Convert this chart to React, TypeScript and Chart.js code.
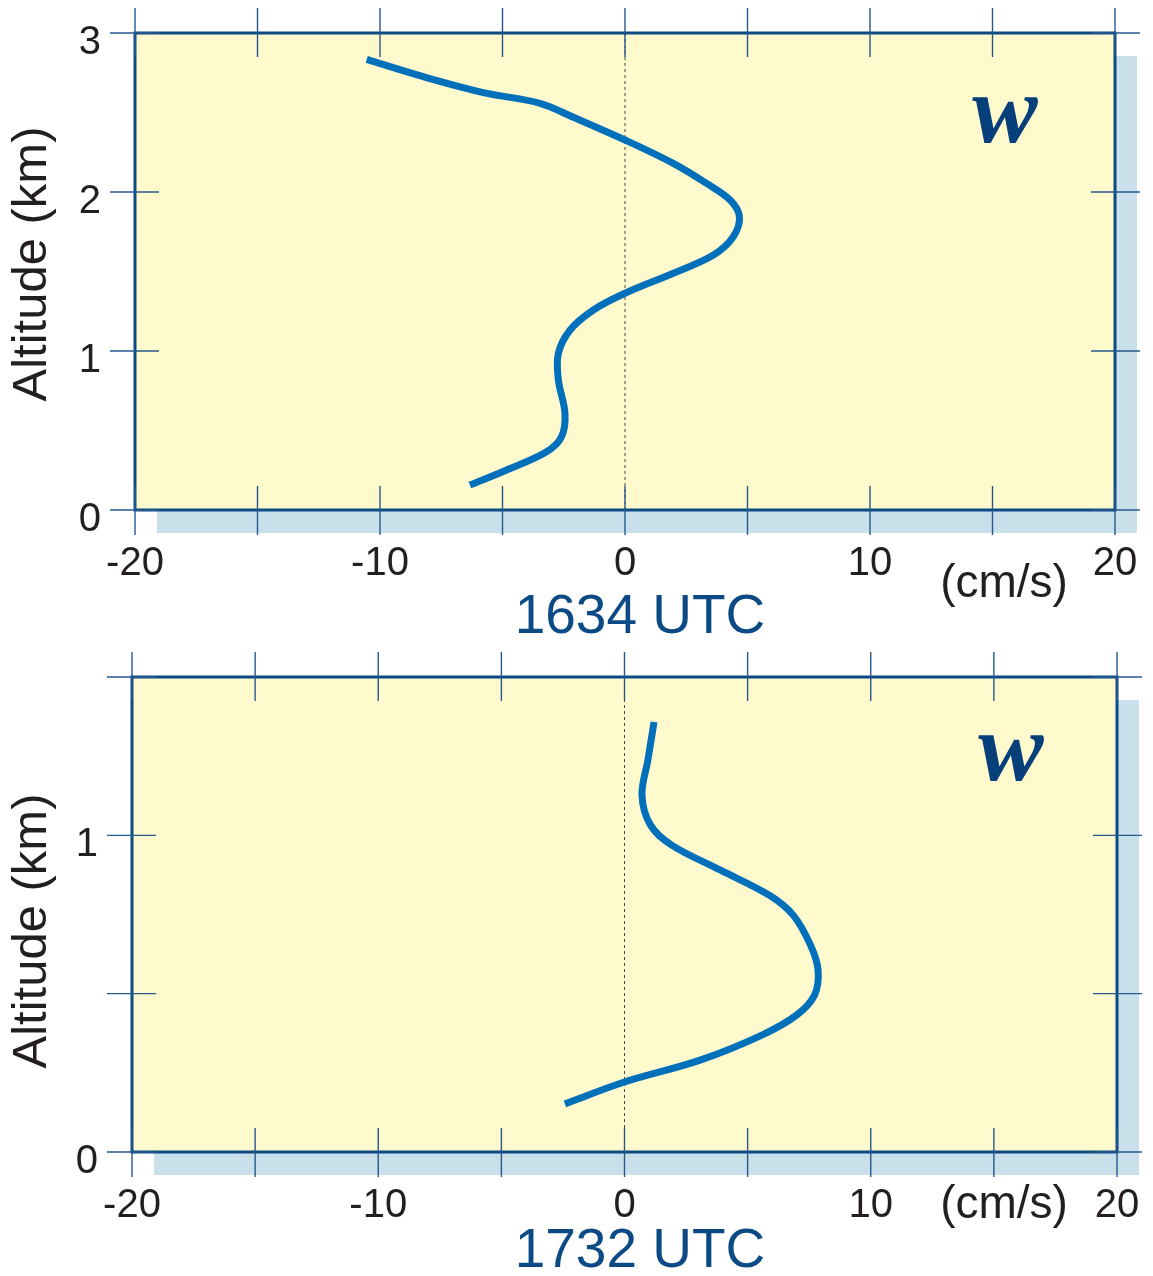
import { useEffect, useRef } from 'react';
import { Chart, registerables } from 'chart.js';

Chart.register(...registerables);

// Vertical velocity profiles (cm/s) against altitude (km)
const xTickMarks = [-20, -15, -10, -5, 0, 5, 10, 15, 20];
const xTickLabels = [-20, -10, 0, 10, 20];

const topW = [-10.54, -8.23, -5.78, -3.47, -2.11, 0, 1.97, 3.33, 4.29, 4.67, 4.42, 3.61, 1.97, 0, -1.29, -2.24, -2.72, -2.72, -2.45, -2.59, -3.2, -4.83, -6.33];
const topAlt = [2.834, 2.725, 2.625, 2.558, 2.47, 2.327, 2.18, 2.054, 1.95, 1.845, 1.719, 1.604, 1.489, 1.363, 1.258, 1.132, 0.985, 0.818, 0.608, 0.461, 0.367, 0.252, 0.157];
const topYTickMarks = [0, 1, 2, 3];
const topYTickLabels = [0, 1, 2, 3];

const bottomW = [1.2, 0.95, 0.71, 1.05, 1.9, 3.9, 5.9, 6.85, 7.55, 7.86, 7.72, 7.0, 5.6, 3.07, 0, -2.42];
const bottomAlt = [1.358, 1.238, 1.127, 1.033, 0.97, 0.89, 0.81, 0.748, 0.654, 0.575, 0.496, 0.433, 0.37, 0.29, 0.221, 0.152];
const bottomYTickMarks = [0, 0.5, 1, 1.5];
const bottomYTickLabels = [0, 1];

const SHADOW = '#c9dfe9';
const FILL = '#fffacd';
const FRAME = '#0c4a84';
const TICK = '#25598e';
const CURVE = '#0070bb';
const TEXT = '#231f20';
const TITLE = '#0b4a85';
const SANS = '"Liberation Sans", Arial, sans-serif';

type Area = { left: number; right: number; top: number; bottom: number };

type ProfileProps = {
  top: number;
  height: number;
  area: Area;
  w: number[];
  alt: number[];
  yMax: number;
  yTickMarks: number[];
  yTickLabels: number[];
  title: string;
  titleBaseline: number;
  unitBaseline: number;
  yTitleCenter: number;
  symbolX: number;
  symbolBaseline: number;
};

const WIDTH = 1153;

function Profile(p: ProfileProps) {
  const ref = useRef<HTMLCanvasElement | null>(null);

  useEffect(() => {
    const canvas = ref.current;
    if (!canvas) return;
    const a = p.area;

    const frame = {
      id: 'frame',
      beforeDraw(chart: any) {
        const { ctx, chartArea: c } = chart;
        ctx.save();
        ctx.fillStyle = SHADOW;
        ctx.fillRect(c.left + 22, c.top + 23, c.right - c.left, c.bottom - c.top);
        ctx.fillStyle = FILL;
        ctx.fillRect(c.left, c.top, c.right - c.left, c.bottom - c.top);
        ctx.restore();
      },
      afterDraw(chart: any) {
        const { ctx, chartArea: c, scales } = chart;
        const xs = scales.x;
        const ys = scales.y;
        ctx.save();
        // frame
        ctx.strokeStyle = FRAME;
        ctx.lineWidth = 3;
        ctx.strokeRect(c.left, c.top, c.right - c.left, c.bottom - c.top);
        // crossing tick marks
        ctx.strokeStyle = TICK;
        ctx.lineWidth = 1.4;
        ctx.beginPath();
        for (const v of xTickMarks) {
          const px = xs.getPixelForValue(v);
          ctx.moveTo(px, c.top - 25);
          ctx.lineTo(px, c.top + 24);
          ctx.moveTo(px, c.bottom - 24);
          ctx.lineTo(px, c.bottom + 25);
        }
        for (const v of p.yTickMarks) {
          const py = ys.getPixelForValue(v);
          ctx.moveTo(c.left - 25, py);
          ctx.lineTo(c.left + 24, py);
          ctx.moveTo(c.right - 24, py);
          ctx.lineTo(c.right + 25, py);
        }
        ctx.stroke();

        // variable symbol
        ctx.fillStyle = '#063f7a';
        ctx.font = 'italic bold 98px "Liberation Serif", "Times New Roman", serif';
        ctx.textAlign = 'center';
        ctx.textBaseline = 'alphabetic';
        ctx.fillText('w', p.symbolX, p.symbolBaseline);

        // unit and time labels
        ctx.fillStyle = TEXT;
        ctx.font = `46px ${SANS}`;
        ctx.fillText('(cm/s)', 1004, p.unitBaseline);
        ctx.fillStyle = TITLE;
        ctx.font = `55px ${SANS}`;
        ctx.fillText(p.title, 640, p.titleBaseline);

        // axis title
        ctx.fillStyle = TEXT;
        ctx.font = `49px ${SANS}`;
        ctx.translate(32, p.yTitleCenter);
        ctx.rotate(-Math.PI / 2);
        ctx.textBaseline = 'middle';
        ctx.fillText('Altitude (km)', 0, 0);
        ctx.restore();
      },
    };

    const profile = p.w.map((v, i) => ({ x: v, y: p.alt[i] }));
    const zeroLine = [
      { x: 0, y: 0 },
      { x: 0, y: p.yMax },
    ];

    const hiddenGrid = (len: number) => ({
      display: true,
      drawOnChartArea: false,
      drawTicks: true,
      tickLength: len,
      color: 'rgba(0,0,0,0)',
    });

    const chart = new Chart(canvas, {
      type: 'scatter',
      data: {
        datasets: [
          {
            data: zeroLine,
            showLine: true,
            borderColor: '#4a4a4a',
            borderWidth: 1,
            borderDash: [3, 3],
            pointRadius: 0,
            tension: 0,
            order: 2,
          },
          {
            data: profile,
            showLine: true,
            borderColor: CURVE,
            borderWidth: 7,
            pointRadius: 0,
            tension: 0.35,
            order: 1,
          },
        ],
      },
      options: {
        responsive: false,
        animation: false,
        layout: {
          padding: { left: 0, top: a.top, right: WIDTH - a.right, bottom: 0 },
        },
        plugins: {
          legend: { display: false },
          tooltip: { enabled: false },
          title: { display: false },
        },
        scales: {
          x: {
            type: 'linear',
            min: -20,
            max: 20,
            grid: hiddenGrid(30),
            border: { display: false },
            ticks: {
              autoSkip: false,
              maxRotation: 0,
              padding: 0,
              color: TEXT,
              font: { family: SANS, size: 40 },
            },
            afterBuildTicks(scale: any) {
              scale.ticks = xTickLabels.map((v) => ({ value: v }));
            },
            afterFit(scale: any) {
              scale.height = p.height - a.bottom;
            },
          },
          y: {
            type: 'linear',
            min: 0,
            max: p.yMax,
            grid: hiddenGrid(34),
            border: { display: false },
            ticks: {
              autoSkip: false,
              padding: 0,
              labelOffset: 10,
              color: TEXT,
              font: { family: SANS, size: 40 },
            },
            afterBuildTicks(scale: any) {
              scale.ticks = p.yTickLabels.map((v) => ({ value: v }));
            },
            afterFit(scale: any) {
              scale.width = a.left;
            },
          },
        },
      },
      plugins: [frame],
    });

    return () => chart.destroy();
  }, [p]);

  return (
    <canvas
      ref={ref}
      width={WIDTH}
      height={p.height}
      style={{ position: 'absolute', left: 0, top: p.top, display: 'block' }}
    />
  );
}

const topProps: ProfileProps = {
  top: 0,
  height: 645,
  area: { left: 135, right: 1115, top: 33, bottom: 510 },
  w: topW,
  alt: topAlt,
  yMax: 3,
  yTickMarks: topYTickMarks,
  yTickLabels: topYTickLabels,
  title: '1634 UTC',
  titleBaseline: 633,
  unitBaseline: 597,
  yTitleCenter: 264,
  symbolX: 1005,
  symbolBaseline: 142,
};

const bottomProps: ProfileProps = {
  top: 645,
  height: 631,
  area: { left: 132, right: 1117, top: 32, bottom: 507 },
  w: bottomW,
  alt: bottomAlt,
  yMax: 1.5,
  yTickMarks: bottomYTickMarks,
  yTickLabels: bottomYTickLabels,
  title: '1732 UTC',
  titleBaseline: 622,
  unitBaseline: 573,
  yTitleCenter: 286,
  symbolX: 1011,
  symbolBaseline: 135,
};

export default function App() {
  return (
    <div style={{ position: 'absolute', left: 0, top: 0, width: WIDTH, height: 1276, background: '#fff' }}>
      <Profile {...topProps} />
      <Profile {...bottomProps} />
    </div>
  );
}
